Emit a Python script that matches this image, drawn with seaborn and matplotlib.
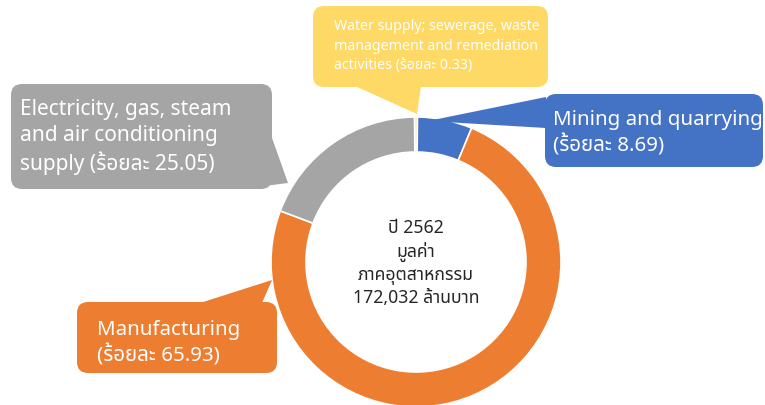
import matplotlib
matplotlib.use("Agg")
import matplotlib.pyplot as plt
from matplotlib.patches import FancyBboxPatch, Polygon
import seaborn as sns

# sectors, clockwise from the top of the ring
sectors = ["Water supply; sewerage, waste\nmanagement and remediation\nactivities",
           "Mining and quarrying",
           "Manufacturing",
           "Electricity, gas, steam\nand air conditioning\nsupply"]
pct_text = ["0.33", "8.69", "65.93", "25.05"]
# slice sizes as the ring shows them
slice_share = [0.33, 6.1, 74.47, 19.1]
colors = ["#FFD966", "#4472C4", "#ED7D31", "#A5A5A5"]
center_lines = ["ปี 2562", "มูลค่า", "ภาคอุตสาหกรรม", "172,032 ล้านบาท"]

W, H = 765, 405

sns.set_theme(style="white")
plt.rcParams["font.family"] = ["Noto Sans", "Noto Sans Thai", "Sarabun", "DejaVu Sans"]

fig = plt.figure(figsize=(W / 100, H / 100), dpi=100)
ax = fig.add_axes([0, 0, 1, 1])


def Y(y):
    return H - y


# donut
ax.pie(slice_share, colors=colors, center=(416, Y(262)), radius=145,
       startangle=90 + slice_share[0] * 3.6 / 2, counterclock=False,
       wedgeprops=dict(width=35, edgecolor="white", linewidth=1.2),
       frame=True)
ax.set_xlim(0, W)
ax.set_ylim(0, H)
ax.set_aspect("equal")
ax.axis("off")

ax.text(416, Y(263), "\n".join(center_lines), ha="center", va="center",
        multialignment="center", fontsize=12.7, color="#262626", linespacing=1.3)

# callouts: box (x0, y0, x1, y1), pointer triangle, text anchor, font size, line spacing
callouts = [
    dict(box=(313, 6, 548, 87), ptr=[(355, 86), (421, 86), (417, 114)],
         txt=(334, 46), fs=10.2, ls=1.42),
    dict(box=(545, 94, 763, 167), ptr=[(546, 97), (546, 128), (428, 121)],
         txt=(553, 133), fs=14.8, ls=1.25),
    dict(box=(77, 302, 277, 373), ptr=[(200, 303), (272, 280), (262, 303)],
         txt=(97, 343), fs=14.8, ls=1.25),
    dict(box=(11, 84, 272, 189), ptr=[(271, 135), (288, 183), (248, 188)],
         txt=(20, 137), fs=15, ls=1.3),
]

for name, pct, col, c in zip(sectors, pct_text, colors, callouts):
    x0, y0, x1, y1 = c["box"]
    ax.add_patch(FancyBboxPatch((x0, Y(y1)), x1 - x0, y1 - y0,
                                boxstyle="round,pad=0,rounding_size=11",
                                facecolor=col, edgecolor="none", zorder=3))
    ax.add_patch(Polygon([(px, Y(py)) for px, py in c["ptr"]], closed=True,
                         facecolor=col, edgecolor="none", zorder=3))
    if "\n" in name:
        label = name + " (ร้อยละ " + pct + ")"
    else:
        label = name + "\n(ร้อยละ " + pct + ")"
    ax.text(c["txt"][0], Y(c["txt"][1]), label, ha="left", va="center",
            fontsize=c["fs"], color="white", linespacing=c["ls"], zorder=4)

fig.savefig("out.png", dpi=100)
